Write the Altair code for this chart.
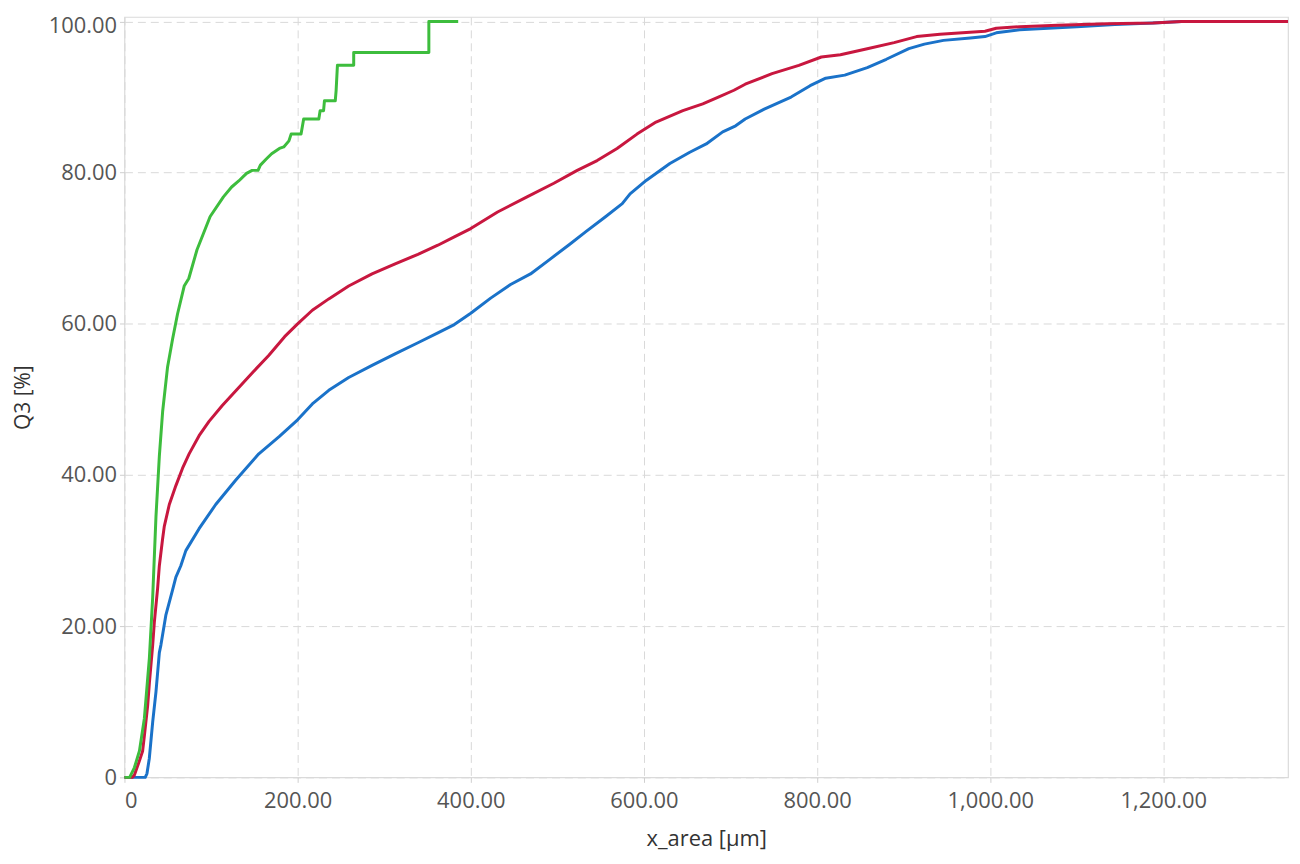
import altair as alt
import pandas as pd

# ---- data ----
green_x = [0, 6, 11.5, 17.3, 23, 28.8, 32.6, 36.4, 40.3, 44.1, 49.8, 55.6, 61.3, 69, 74.3, 83.8,
           99, 114.3, 123.8, 132, 141, 147.5, 154.3, 157, 163.8, 170, 179, 184, 190, 192.5,
           204, 207, 224.5, 226, 230, 231, 243.5, 244.5, 246, 264.8, 264.8, 351.6, 351.6, 385.5]
green_y = [0, 0, 1.3, 3.5, 7.8, 15.8, 23.8, 34.5, 42.5, 48.4, 54.3, 58, 61.3, 65, 66, 69.8,
           74.2, 76.8, 78.1, 78.9, 79.9, 80.3, 80.3, 81.0, 81.8, 82.5, 83.2, 83.4, 84.2, 85.1,
           85.1, 87.1, 87.1, 88.2, 88.2, 89.5, 89.5, 90.9, 94.2, 94.2, 95.9, 95.9, 100, 100]

red_x = [0, 9, 11.5, 17.3, 21, 23, 26.8, 28.8, 32.6, 34.5, 38.3, 40.3, 44, 46, 51.8, 59.4, 67.1,
         74.7, 86.2, 97.7, 113, 128.4, 147.5, 166.6, 185, 200, 217, 236, 259, 286, 312, 339,
         362, 381, 400, 431, 465, 496, 523, 546, 569, 592, 614, 645, 668, 686, 704, 717, 748,
         779, 805, 827, 858, 889, 915, 942, 968, 994, 1007, 1034, 1078, 1135, 1188, 1221, 1344]
red_y = [0, 0, 0.3, 2.2, 3.5, 5.5, 9.5, 12.5, 17.5, 20.5, 25, 28, 31.5, 33.2, 36.1, 38.6, 40.9,
         42.8, 45.2, 47.1, 49.2, 51.1, 53.5, 55.8, 58.3, 60.0, 61.8, 63.3, 65, 66.6, 67.9, 69.2,
         70.4, 71.5, 72.6, 74.8, 76.8, 78.6, 80.3, 81.6, 83.2, 85.1, 86.7, 88.2, 89.1, 90, 90.9,
         91.7, 93.1, 94.2, 95.3, 95.6, 96.4, 97.2, 98, 98.3, 98.5, 98.7, 99.1, 99.3, 99.5, 99.7,
         99.8, 100, 100]

blue_x = [0, 24, 26, 28.7, 32.6, 36.4, 40.3, 42.1, 47.9, 55.6, 59.4, 65.1, 70.9, 86.2, 105.4,
          128.4, 155.2, 179, 200, 217, 236, 259, 286, 312, 339, 362, 381, 400, 423, 446, 469,
          491, 514, 533, 556, 575, 584, 603, 630, 653, 672, 691, 706, 717, 739, 770, 792, 810,
          832, 858, 880, 906, 924, 946, 977, 994, 1007, 1034, 1100, 1144, 1188, 1221, 1344]
blue_y = [0, 0, 0.5, 2.5, 7.3, 11.3, 16.5, 17.5, 21.5, 24.8, 26.5, 28, 30, 32.9, 36.1,
          39.3, 42.8, 45.1, 47.3, 49.4, 51.2, 52.9, 54.5, 56, 57.5, 58.8, 59.9, 61.4, 63.4, 65.2,
          66.6, 68.5, 70.5, 72.2, 74.2, 75.9, 77.2, 79, 81.2, 82.7, 83.8, 85.4, 86.2, 87.1, 88.4,
          90, 91.5, 92.5, 92.9, 93.9, 95, 96.4, 97, 97.5, 97.8, 98, 98.5, 98.9, 99.3, 99.6, 99.8,
          100, 100]

series_names = ["blue", "red", "green"]
series_colors = ["#1a72c9", "#c8173f", "#3dbd3d"]
x_ticks = [0, 200, 400, 600, 800, 1000, 1200]
y_ticks = [0, 20, 40, 60, 80, 100]

rows = []
for name, xs, ys in [("blue", blue_x, blue_y), ("red", red_x, red_y), ("green", green_x, green_y)]:
    for i, (a, b) in enumerate(zip(xs, ys)):
        rows.append({"series": name, "x": a, "y": b, "i": i})
df = pd.DataFrame(rows)

label_expr = "datum.value == 0 ? '0' : format(datum.value, ',.2f')"
FONT = "Open Sans"

chart = alt.Chart(df).mark_line(strokeWidth=3, strokeJoin="round").encode(
    x=alt.X("x:Q", scale=alt.Scale(domain=[0, 1344], nice=False, zero=False),
            axis=alt.Axis(title="x_area [µm]", values=x_ticks, labelExpr=label_expr,
                          grid=True, gridDash=[8, 5], gridColor="#d9d9d9",
                          tickColor="#cfcfcf", tickSize=5, labelPadding=8,
                          labelFontSize=22, labelColor="#555555", labelFont=FONT,
                          titleFontSize=22, titleColor="#333333", titleFont=FONT,
                          titleFontWeight="normal", titleBaseline="middle", titleY=61,
                          domain=False)),
    y=alt.Y("y:Q", scale=alt.Scale(domain=[0, 100.6], nice=False, zero=False),
            axis=alt.Axis(title="Q3 [%]", values=y_ticks, labelExpr=label_expr,
                          grid=True, gridDash=[8, 5], gridColor="#d9d9d9",
                          tickColor="#cfcfcf", tickSize=5, labelPadding=3,
                          labelOffset=alt.condition("datum.value == 100", alt.value(4), alt.value(0)),
                          labelFontSize=22, labelColor="#555555", labelFont=FONT,
                          titleFontSize=21, titleColor="#333333", titleFont=FONT,
                          titleFontWeight="normal", titleBaseline="middle", titleX=-101,
                          domain=False)),
    color=alt.Color("series:N", scale=alt.Scale(domain=series_names, range=series_colors),
                    legend=None),
    detail="series:N",
    order=alt.Order("i:Q"),
).properties(
    width=1169, height=764, autosize="none",
    padding={"left": 117, "top": 7, "right": 4, "bottom": 73},
    background="white",
).configure_view(stroke="#dadada", strokeWidth=1.2)

chart.save("out.html", embed_options={"renderer": "svg", "actions": False})
